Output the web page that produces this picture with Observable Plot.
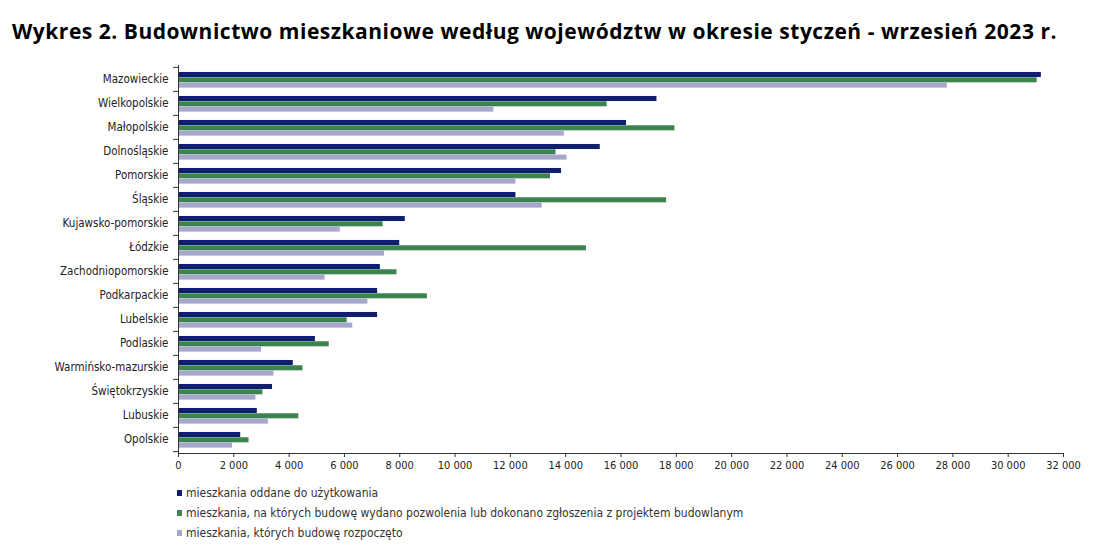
<!DOCTYPE html>
<html>
<head>
<meta charset="utf-8">
<script src="https://cdn.jsdelivr.net/npm/d3@7"></script>
<script src="https://cdn.jsdelivr.net/npm/@observablehq/plot@0.6"></script>
<style>
  body { margin: 0; background: #fff; width: 1104px; height: 556px; overflow: hidden; }
  #title { height: 55px; box-sizing: border-box; padding: 17px 0 0 12px; font-family: "Open Sans", Lato, sans-serif; font-weight: 700; font-size: 21px; line-height: 28px; color: #000; white-space: nowrap; }
  #legend { margin-left: 177px; margin-top: 3px; font-family: "DejaVu Sans Condensed", "DejaVu Sans", sans-serif; font-size: 12px; color: #333; }
  #legend .row { height: 20px; line-height: 20px; display: flex; align-items: center; }
  #legend .sw { width: 5px; height: 6px; margin-right: 4px; display: inline-block; }
</style>
</head>
<body>
<div id="title"><span id="titleText"></span></div>
<div id="chart"></div>
<div id="legend"></div>
<script>
const titleText = "Wykres 2. Budownictwo mieszkaniowe według województw w okresie styczeń - wrzesień 2023 r.";
const regions = ["Mazowieckie","Wielkopolskie","Małopolskie","Dolnośląskie","Pomorskie","Śląskie","Kujawsko-pomorskie","Łódzkie","Zachodniopomorskie","Podkarpackie","Lubelskie","Podlaskie","Warmińsko-mazurskie","Świętokrzyskie","Lubuskie","Opolskie"];
const oddane      = [31200,17300,16200,15250,13850,12200,8200,8000,7300,7200,7200,4950,4150,3400,2850,2250];
const pozwolenia  = [31050,15500,17950,13650,13450,17650,7400,14750,7900,9000,6100,5450,4500,3050,4350,2550];
const rozpoczete  = [27800,11400,13950,14050,12200,13150,5850,7450,5300,6850,6300,3000,3450,2800,3250,1950];
const seriesNames = ["mieszkania oddane do użytkowania","mieszkania, na których budowę wydano pozwolenia lub dokonano zgłoszenia z projektem budowlanym","mieszkania, których budowę rozpoczęto"];
const seriesColors = ["#0f1f6e","#3d8251","#a3a8cc"];
const xTicks = d3.range(0, 32001, 2000);

const titleEl = document.getElementById("titleText");
titleEl.textContent = titleText;
const targetTitleWidth = 1045;
const w0 = titleEl.getBoundingClientRect().width;
titleEl.style.letterSpacing = ((targetTitleWidth - w0) / titleText.length) + "px";

const seriesValues = [oddane, pozwolenia, rozpoczete];
const height = 425, marginTop = 10, marginBottom = 27;
const band = (height - marginTop - marginBottom) / regions.length;
const barH = 5.3;
const inset = (band - barH) / 2;

const fmt = d => d3.format(",")(d).replace(/,/g, " ");

const barMarks = seriesValues.map((vals, i) =>
  Plot.barX(regions.map((r, j) => ({region: r, value: vals[j]})), {
    y: "region", x: "value", fill: seriesColors[i],
    insetTop: inset, insetBottom: inset, dy: (i - 1) * barH + 0.8
  })
);

const chart = Plot.plot({
  width: 1104, height, marginLeft: 178, marginRight: 41, marginTop, marginBottom,
  style: {fontFamily: "'DejaVu Sans Condensed', 'DejaVu Sans', sans-serif", color: "#222", background: "#fff"},
  x: {domain: [0, 32000], label: null},
  y: {domain: regions, padding: 0, label: null},
  marks: [
    ...barMarks,
    Plot.axisY({tickSize: 0, tickPadding: 10, fontSize: 11.5, label: null}),
    Plot.axisY({text: null, tickSize: 5, dy: -band / 2, stroke: "#333", label: null}),
    Plot.axisY({ticks: [regions[regions.length - 1]], text: null, tickSize: 5, dy: band / 2, stroke: "#333", label: null}),
    Plot.axisX({ticks: xTicks, tickFormat: fmt, tickSize: 4, tickPadding: 4, fontSize: 11, label: null, stroke: "#333"}),
    Plot.frame({anchor: "left", stroke: "#333"}),
    Plot.frame({anchor: "bottom", stroke: "#333"})
  ]
});
document.getElementById("chart").appendChild(chart);

const legend = document.getElementById("legend");
seriesNames.forEach((name, i) => {
  const row = document.createElement("div");
  row.className = "row";
  const sw = document.createElement("span");
  sw.className = "sw";
  sw.style.background = seriesColors[i];
  const t = document.createElement("span");
  t.textContent = name;
  row.appendChild(sw); row.appendChild(t);
  legend.appendChild(row);
});
</script>
</body>
</html>
